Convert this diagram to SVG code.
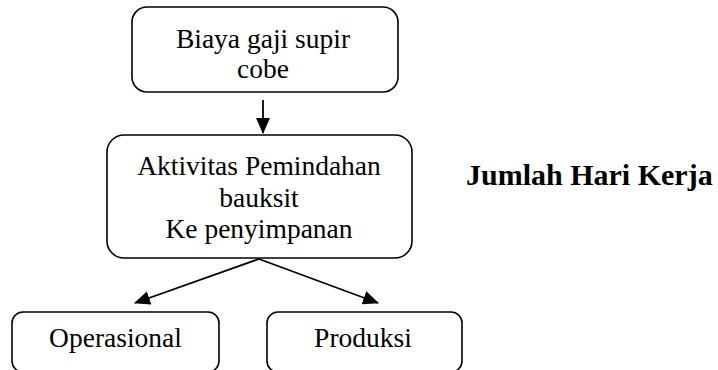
<svg xmlns="http://www.w3.org/2000/svg" width="718" height="370" viewBox="0 0 718 370">
<style>
.box{fill:#fff;stroke:#000;stroke-width:1.6}
.t{font-family:"Liberation Serif","Times New Roman",serif;font-size:27.5px;fill:#000;text-anchor:middle}
.b{font-family:"Liberation Serif","Times New Roman",serif;font-size:30px;font-weight:bold;fill:#000}
.c{stroke:#000;stroke-width:1.8;fill:none}
</style>
<defs>
<marker id="ah" markerWidth="10" markerHeight="10" refX="9" refY="5" orient="auto" markerUnits="userSpaceOnUse" viewBox="0 0 10 10">
<path d="M0,0 L10,5 L0,10 z" fill="#000"/>
</marker>
<marker id="ah2" markerWidth="16" markerHeight="14" refX="15" refY="7" orient="auto" markerUnits="userSpaceOnUse" viewBox="0 0 16 14">
<path d="M0,0 L16,7 L0,14 z" fill="#000"/>
</marker>
</defs>
<g id="biaya">
<rect class="box" x="132" y="7" width="266" height="85" rx="15"/>
<text class="t" x="263" y="48">Biaya gaji supir</text>
<text class="t" x="263" y="78">cobe</text>
</g>
<g id="aktivitas">
<rect class="box" x="107" y="135" width="305" height="123" rx="17"/>
<text class="t" x="259" y="175">Aktivitas Pemindahan</text>
<text class="t" x="259" y="207">bauksit</text>
<text class="t" x="259" y="238">Ke penyimpanan</text>
</g>
<g id="operasional">
<rect class="box" x="12" y="312" width="207" height="60" rx="11"/>
<text class="t" x="115.5" y="347">Operasional</text>
</g>
<g id="produksi">
<rect class="box" x="267" y="312" width="195" height="60" rx="11"/>
<text class="t" x="363" y="347">Produksi</text>
</g>
<g id="jumlah">
<text class="b" x="466" y="185">Jumlah Hari Kerja</text>
</g>
<g id="connectors">
<line class="c" x1="263" y1="100" x2="263" y2="133" marker-end="url(#ah2)"/>
<line class="c" x1="259" y1="259" x2="135" y2="303" marker-end="url(#ah2)"/>
<line class="c" x1="259" y1="259" x2="378" y2="303" marker-end="url(#ah2)"/>
</g>
</svg>
